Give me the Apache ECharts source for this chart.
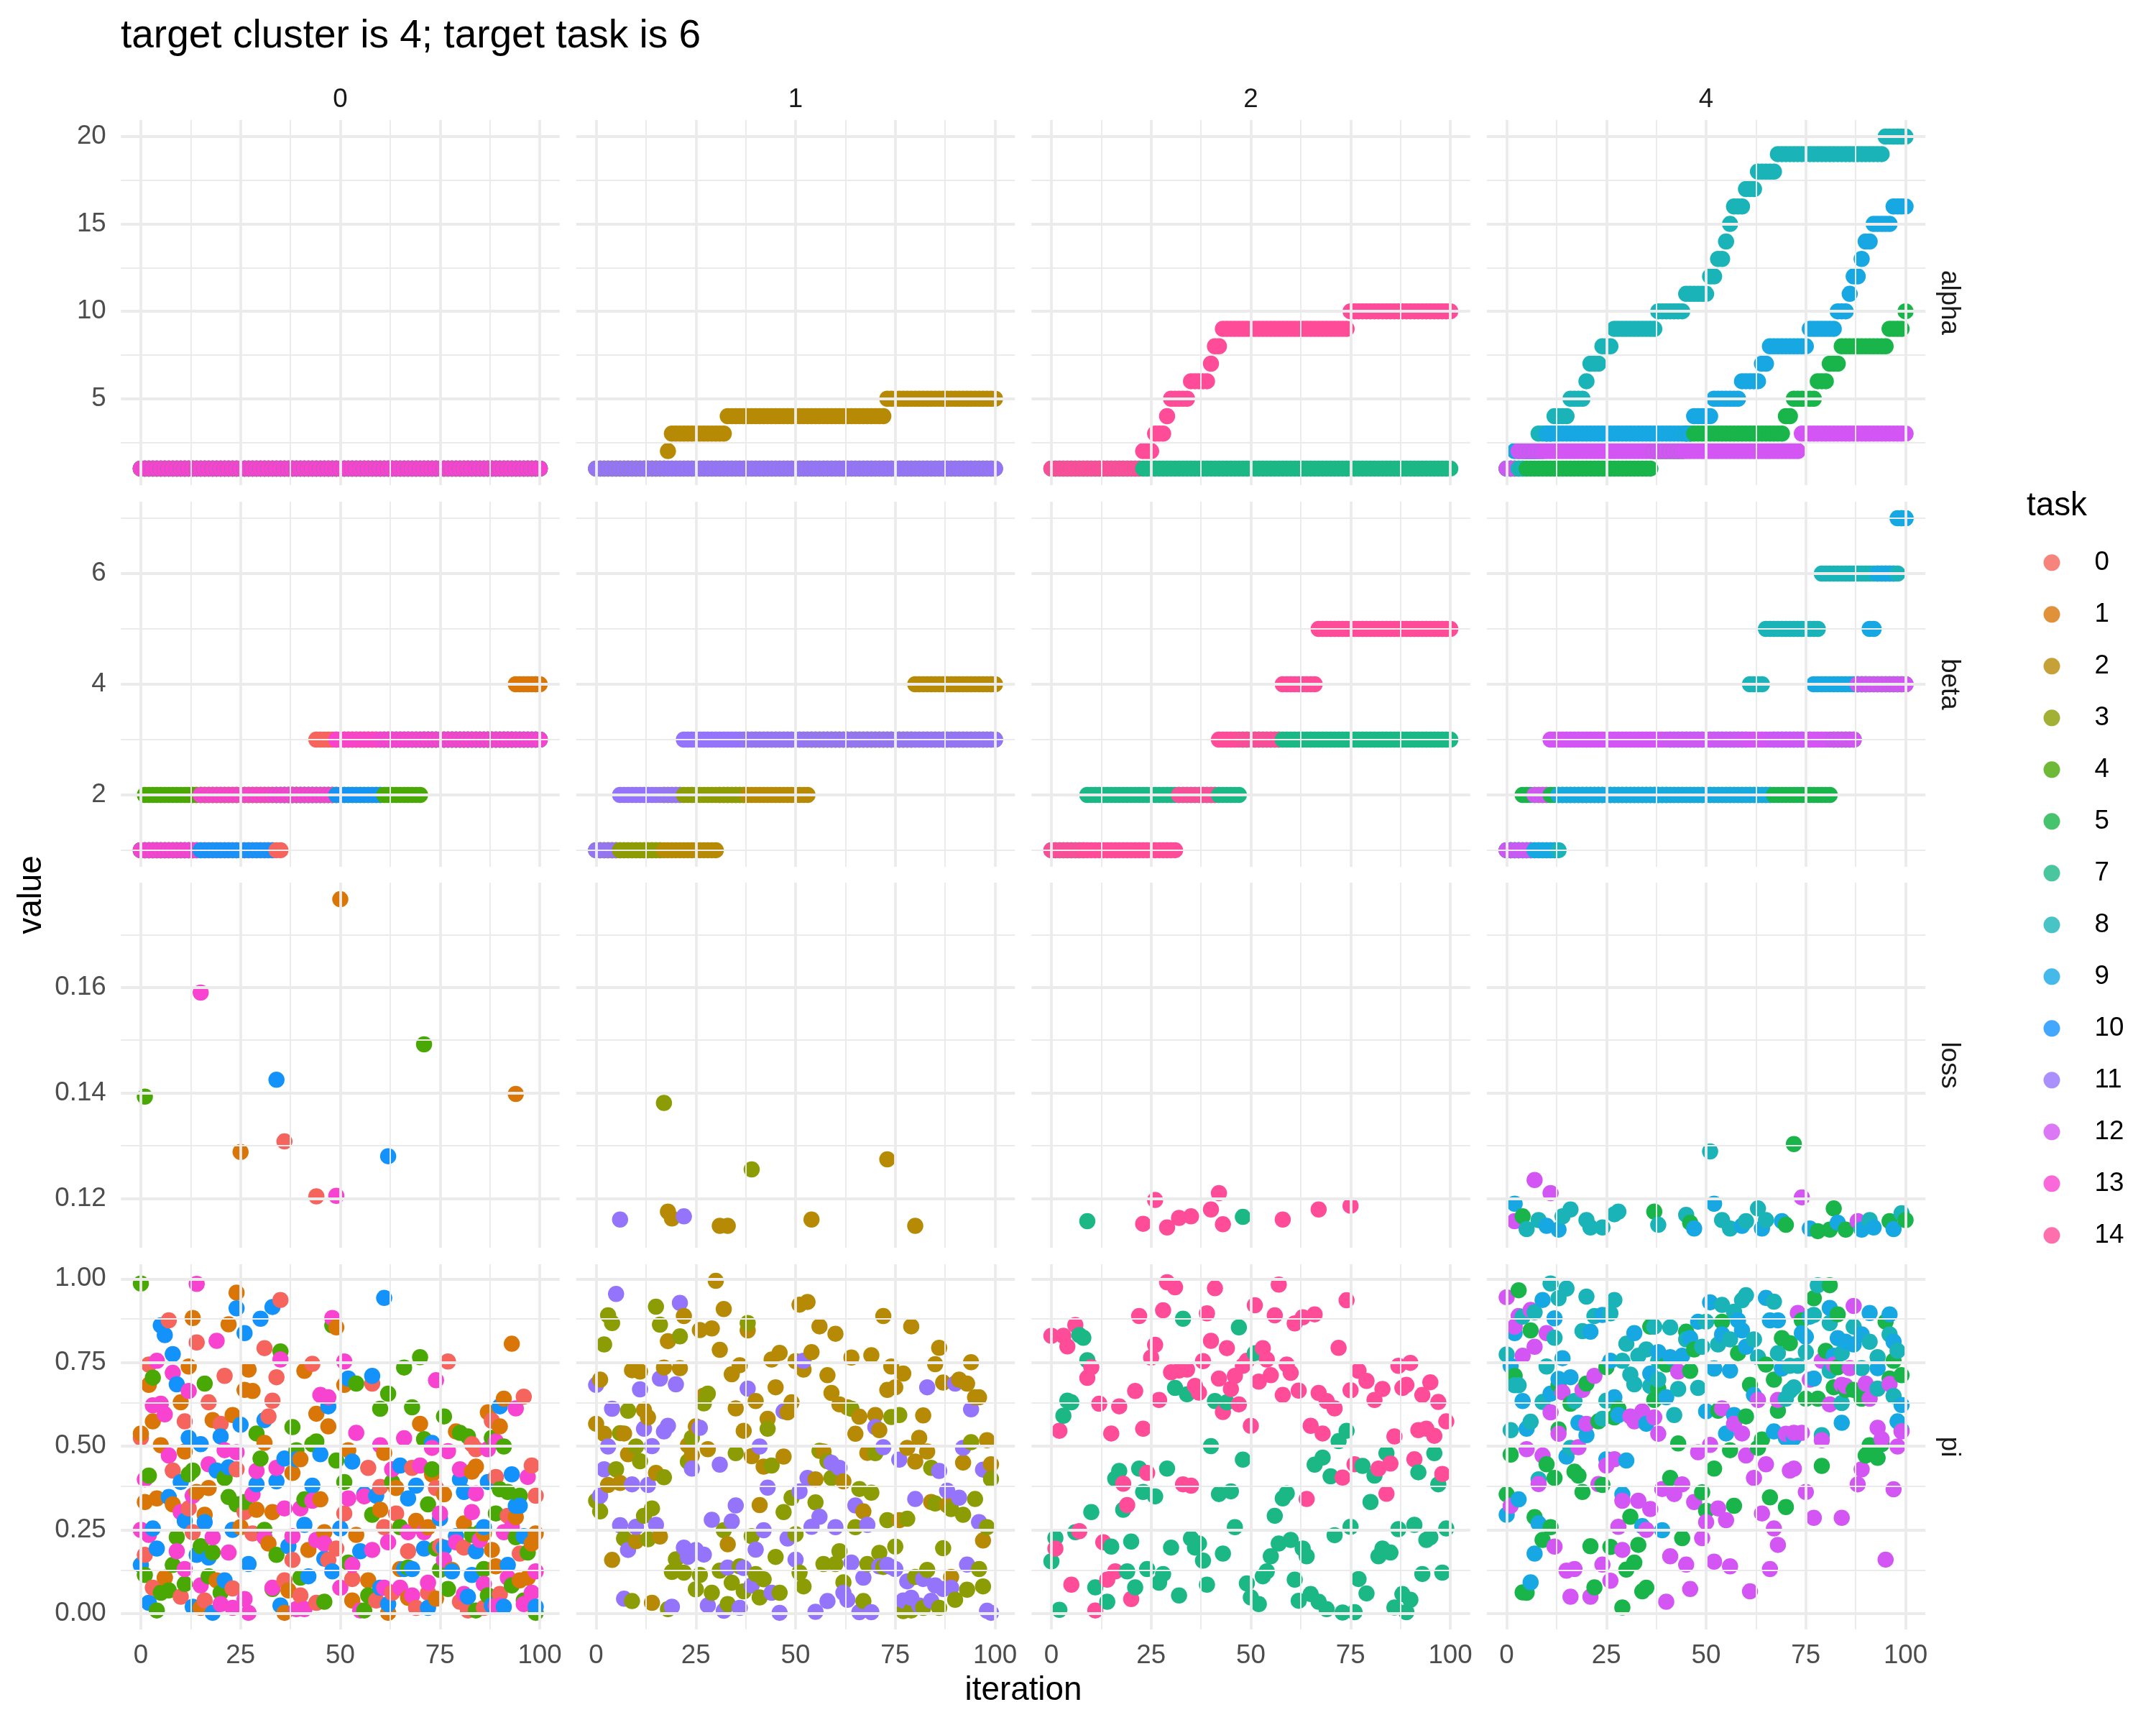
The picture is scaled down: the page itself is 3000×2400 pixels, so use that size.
<!DOCTYPE html>
<html><head><meta charset="utf-8">
<script src="https://cdn.jsdelivr.net/npm/echarts@6/dist/echarts.min.js"></script>
<style>html,body{margin:0;padding:0;background:#fff}#c{width:3000px;height:2400px}</style>
</head><body><div id="c"></div>
<script>
// ---------------- data ----------------
const chartTitle = 'target cluster is 4; target task is 6';
const clusterNames = ['0', '1', '2', '4'];
const clusterTasks = [[0, 1, 4, 10, 13], [2, 3, 11], [7, 14], [5, 8, 9, 12]];
const taskNames = ['0', '1', '2', '3', '4', '5', '7', '8', '9', '10', '11', '12', '13', '14'];
const taskColors = {0:'#F5645D',1:'#DA7608',2:'#B78A06',3:'#8C9C04',4:'#4AA805',5:'#19B44A',7:'#1BB886',8:'#1AB4B8',9:'#17A8E3',10:'#1492FC',11:'#9474FB',12:'#D356F4',13:'#F743CF',14:'#FE4C99'};
const rowNames = ['alpha', 'beta', 'loss', 'pi'];
const xTicks = [0, 25, 50, 75, 100];
const xMinor = [12.5, 37.5, 62.5, 87.5];
const alphaTicks = [5, 10, 15, 20];
const alphaMinor = [2.5, 7.5, 12.5, 17.5];
const betaTicks = [2, 4, 6];
const betaMinor = [1, 3, 5, 7];
const lossTicks = [0.12, 0.14, 0.16];
const lossMinor = [0.13, 0.15, 0.17];
const piTicks = [0, 0.25, 0.5, 0.75, 1];
const piMinor = [0.125, 0.375, 0.625, 0.875];
const lastIteration = 100;

// alpha / beta: step values per task as [first iteration, value] runs
const alphaRuns = {
  0:[[0,1]], 1:[[0,1]], 4:[[0,1]], 10:[[0,1]], 13:[[0,1]],
  2:[[0,1],[18,2],[19,3],[33,4],[73,5]], 3:[[0,1]], 11:[[0,1]],
  7:[[0,1]], 14:[[0,1],[23,2],[26,3],[29,4],[30,5],[35,6],[40,7],[41,8],[43,9],[75,10]],
  5:[[0,1],[37,2],[45,3],[70,4],[72,5],[78,6],[81,7],[84,8],[96,9],[100,10]],
  8:[[0,1],[5,2],[8,3],[12,4],[16,5],[20,6],[21,7],[24,8],[27,9],[38,10],[45,11],[51,12],[53,13],[55,14],[56,15],[57,16],[60,17],[63,18],[68,19],[95,20]],
  9:[[0,1],[2,2],[10,3],[47,4],[52,5],[59,6],[64,7],[66,8],[76,9],[83,10],[86,11],[87,12],[89,13],[90,14],[92,15],[97,16]],
  12:[[0,1],[3,2],[74,3]]
};
const betaRuns = {
  0:[[0,1],[36,2],[44,3]], 1:[[0,1],[13,2],[51,3],[94,4]], 4:[[0,1],[1,2],[71,3]],
  10:[[0,1],[34,2],[61,3]], 13:[[0,1],[15,2],[49,3]],
  2:[[0,1],[31,2],[54,3],[80,4]], 3:[[0,1],[17,2],[38,3]], 11:[[0,1],[6,2],[22,3]],
  7:[[0,1],[9,2],[48,3]], 14:[[0,1],[32,2],[42,3],[58,4],[67,5]],
  5:[[0,1],[4,2],[82,3],[88,4]], 8:[[0,1],[14,2],[41,3],[61,4],[65,5],[79,6],[99,7]],
  9:[[0,1],[13,2],[67,3],[77,4],[91,5],[93,6],[98,7]], 12:[[0,1],[7,2],[11,3],[88,4]]
};

// loss: [iteration, value]
const loss_t0 = [[36,.1308],[44,.1204]];
const loss_t1 = [[25,.1288],[50,.1767],[94,.1398]];
const loss_t4 = [[1,.1393],[71,.1492]];
const loss_t10 = [[34,.1425],[62,.1280]];
const loss_t13 = [[15,.1590],[49,.1205]];
const loss_t2 = [[18,.1175],[19,.1162],[31,.1148],[33,.1148],[54,.1160],[73,.1274],[80,.1148]];
const loss_t3 = [[17,.1381],[39,.1255]];
const loss_t11 = [[6,.1160],[22,.1166]];
const loss_t7 = [[9,.1157],[48,.1165]];
const loss_t14 = [[23,.1152],[26,.1197],[29,.1145],[32,.1163],[35,.1166],[40,.1179],[42,.1210],[43,.1151],[58,.1160],[67,.1179],[75,.1186]];
const loss_t5 = [[4,.1166],[37,.1175],[46,.1154],[70,.1150],[72,.1303],[78,.1138],[81,.1141],[82,.1181],[85,.1141],[96,.1157],[100,.1159]];
const loss_t8 = [[5,.1142],[8,.1159],[14,.1166],[16,.1179],[20,.1159],[21,.1145],[24,.1145],[27,.1170],[28,.1175],[38,.1150],[45,.1169],[51,.1289],[54,.1159],[56,.1143],[60,.1157],[63,.1181],[65,.1159],[91,.1159],[99,.1172]];
const loss_t9 = [[2,.1190],[10,.1148],[13,.1141],[47,.1143],[52,.1190],[59,.1148],[64,.1143],[69,.1157],[76,.1143],[83,.1154],[89,.1141],[92,.1145],[97,.1142]];
const loss_t12 = [[2,.1157],[7,.1235],[11,.1210],[74,.1202],[88,.1157]];

// pi: [iteration, value]
const pi_t0 = [[35,.937],[7,.876],[14,.81],[31,.793],[2,.744],[21,.71],[34,.706],[43,.746],[17,.631],[11,.574],[33,.636],[32,.589],[0,.525],[8,.427],[24,.431],[20,.567],[77,.753],[96,.648],[88,.576],[58,.687],[57,.435],[98,.442],[89,.408],[99,.352],[68,.435],[60,.378],[74,.375],[84,.491],[83,.506],[92,.292],[64,.299],[51,.299],[61,.258],[26,.303],[12,.314],[13,.243],[28,.239],[1,.175],[3,.077],[6,.107],[10,.05],[23,.075],[16,.039],[38,.16],[36,.099],[40,.054],[44,.032],[47,.16],[49,.194],[53,.103],[59,.039],[63,.062],[72,.062],[69,.017],[80,.035],[82,.009],[86,.017],[95,.179],[90,.058],[75,.201],[81,.197],[67,.186]];
const pi_t1 = [[24,.959],[13,.883],[22,.864],[12,.738],[2,.683],[0,.538],[3,.574],[10,.631],[27,.729],[26,.668],[28,.665],[18,.578],[23,.593],[5,.503],[11,.484],[1,.333],[4,.344],[8,.326],[14,.363],[17,.375],[16,.295],[25,.258],[29,.31],[31,.51],[33,.303],[32,.209],[38,.42],[40,.461],[41,.725],[44,.597],[47,.559],[45,.341],[46,.243],[42,.19],[37,.069],[36,.002],[15,.017],[19,.099],[6,.107],[51,.683],[49,.855],[52,.488],[61,.48],[60,.31],[54,.235],[53,.039],[57,.099],[64,.375],[65,.133],[70,.567],[69,.277],[73,.416],[74,.044],[76,.356],[78,.13],[79,.544],[81,.269],[83,.424],[84,.439],[86,.239],[87,.601],[88,.19],[89,.141],[90,.559],[91,.642],[93,.806],[94,.288],[95,.099],[97,.107],[98,.209],[99,.239],[67,.047],[62,.002],[72,.258]];
const pi_t4 = [[0,.986],[3,.705],[2,.412],[1,.115],[4,.009],[5,.062],[7,.069],[9,.228],[8,.145],[11,.088],[12,.416],[13,.427],[16,.687],[15,.201],[18,.182],[17,.111],[20,.062],[21,.405],[22,.348],[24,.326],[26,.333],[29,.538],[30,.463],[31,.25],[35,.783],[34,.175],[33,.073],[38,.557],[39,.488],[41,.341],[40,.107],[43,.506],[44,.514],[46,.035],[48,.861],[49,.457],[51,.393],[52,.152],[54,.687],[56,.009],[58,.295],[57,.054],[60,.612],[62,.657],[63,.393],[65,.258],[66,.735],[67,.137],[68,.616],[70,.766],[71,.521],[72,.326],[73,.431],[74,.194],[75,.13],[76,.589],[77,.073],[80,.54],[82,.529],[83,.235],[84,.009],[86,.133],[87,.054],[88,.525],[90,.371],[91,.499],[92,.363],[94,.228],[95,.352],[96,.039],[97,.182],[99,.002],[93,.084],[89,.299],[85,.243]];
const pi_t10 = [[61,.943],[24,.912],[33,.916],[30,.881],[5,.861],[6,.832],[26,.838],[8,.775],[9,.685],[25,.564],[31,.578],[12,.525],[15,.506],[20,.529],[52,.702],[58,.71],[47,.619],[45,.476],[53,.454],[36,.463],[19,.427],[22,.437],[29,.386],[34,.395],[10,.393],[7,.348],[43,.382],[65,.442],[73,.51],[69,.382],[67,.344],[81,.363],[80,.401],[87,.393],[90,.619],[93,.416],[94,.322],[56,.356],[59,.352],[3,.254],[11,.277],[16,.273],[23,.25],[41,.265],[37,.201],[50,.254],[75,.284],[79,.231],[86,.258],[0,.145],[4,.194],[14,.175],[17,.167],[27,.148],[46,.164],[48,.126],[55,.186],[71,.194],[76,.197],[84,.186],[92,.145],[68,.133],[78,.126],[83,.115],[42,.111],[21,.099],[2,.032],[13,.02],[18,.002],[35,.024],[60,.077],[62,.028],[72,.017],[82,.05],[88,.024],[91,.02],[99,.02],[96,.231],[95,.322],[66,.133],[39,.461]];
const pi_t13 = [[14,.985],[48,.883],[19,.815],[35,.759],[4,.755],[8,.719],[51,.753],[74,.697],[3,.622],[5,.627],[6,.595],[12,.665],[45,.653],[47,.646],[54,.54],[66,.524],[94,.613],[7,.472],[21,.488],[24,.482],[60,.503],[73,.495],[77,.485],[87,.491],[89,.514],[17,.446],[29,.426],[34,.435],[70,.442],[80,.431],[97,.408],[1,.401],[63,.431],[28,.356],[13,.352],[52,.344],[56,.35],[84,.359],[43,.337],[10,.303],[75,.299],[83,.303],[36,.314],[40,.314],[0,.25],[2,.235],[18,.228],[31,.228],[38,.231],[44,.22],[67,.243],[71,.243],[91,.243],[93,.258],[9,.186],[22,.182],[46,.209],[58,.19],[62,.213],[79,.213],[85,.22],[99,.126],[11,.133],[53,.145],[76,.16],[92,.107],[86,.088],[72,.092],[15,.084],[33,.077],[50,.077],[61,.077],[65,.077],[68,.054],[81,.058],[98,.062],[20,.028],[23,.017],[26,.043],[27,.002],[39,.013],[41,.013],[55,.009],[89,.024],[90,.024],[96,.028]];
const pi_t2 = [[30,.994],[32,.91],[51,.923],[53,.931],[22,.889],[26,.847],[29,.852],[38,.846],[18,.814],[31,.788],[56,.858],[60,.836],[72,.889],[79,.858],[86,.794],[85,.745],[94,.751],[1,.699],[9,.727],[11,.723],[17,.735],[21,.733],[34,.715],[36,.742],[44,.759],[46,.779],[50,.754],[52,.729],[54,.781],[58,.712],[64,.765],[69,.772],[74,.738],[77,.717],[73,.668],[75,.676],[87,.69],[91,.699],[93,.687],[96,.646],[95,.646],[45,.676],[27,.651],[40,.635],[35,.613],[59,.659],[61,.625],[63,.616],[49,.631],[48,.601],[12,.608],[13,.586],[0,.567],[2,.537],[7,.538],[43,.582],[37,.546],[66,.588],[70,.593],[71,.548],[65,.537],[82,.592],[81,.525],[25,.559],[23,.503],[8,.476],[28,.491],[24,.472],[39,.47],[42,.439],[47,.469],[57,.484],[68,.48],[78,.495],[83,.484],[80,.454],[92,.451],[98,.518],[99,.446],[15,.42],[3,.384],[6,.39],[55,.401],[62,.395],[84,.333],[67,.305],[88,.324],[41,.324],[76,.279],[16,.23],[10,.216],[33,.207],[97,.218],[4,.16],[14,.032],[89,.109]];
const pi_t3 = [[3,.891],[4,.868],[2,.804],[15,.917],[16,.863],[21,.828],[38,.868],[8,.606],[6,.539],[10,.499],[11,.455],[27,.628],[28,.657],[24,.525],[23,.454],[5,.431],[17,.407],[35,.479],[43,.552],[44,.442],[64,.612],[74,.587],[76,.593],[56,.486],[58,.455],[70,.479],[59,.405],[84,.435],[94,.512],[99,.402],[0,.337],[1,.305],[12,.292],[14,.314],[7,.224],[13,.222],[49,.346],[47,.303],[55,.332],[66,.372],[69,.361],[95,.342],[98,.258],[85,.329],[89,.312],[92,.295],[65,.258],[73,.279],[78,.283],[32,.249],[39,.231],[50,.237],[87,.195],[75,.2],[61,.186],[20,.162],[19,.124],[22,.122],[26,.115],[25,.072],[29,.062],[31,.128],[34,.092],[36,.141],[37,.066],[40,.118],[42,.102],[41,.048],[45,.169],[46,.062],[51,.122],[52,.081],[57,.148],[60,.148],[62,.093],[68,.148],[71,.181],[72,.139],[80,.109],[83,.13],[96,.133],[93,.071],[97,.081],[90,.041],[86,.017],[77,.007],[79,.009],[67,.037],[33,.028],[18,.013],[9,.037],[82,.017]];
const pi_t11 = [[5,.955],[21,.928],[0,.683],[11,.67],[16,.702],[20,.685],[38,.672],[52,.755],[83,.676],[90,.687],[94,.61],[4,.612],[12,.552],[18,.561],[17,.544],[14,.5],[3,.499],[26,.555],[47,.604],[41,.499],[70,.557],[72,.497],[76,.46],[92,.495],[86,.426],[97,.43],[2,.431],[24,.433],[31,.445],[9,.386],[13,.384],[59,.45],[61,.435],[53,.405],[1,.352],[43,.376],[51,.365],[65,.323],[80,.342],[88,.367],[91,.346],[35,.323],[6,.264],[10,.259],[15,.265],[29,.28],[34,.275],[56,.289],[54,.259],[68,.265],[60,.258],[42,.249],[96,.273],[48,.224],[8,.19],[40,.191],[22,.197],[25,.19],[27,.176],[23,.169],[50,.161],[64,.152],[71,.141],[74,.139],[33,.137],[37,.136],[67,.107],[93,.146],[78,.096],[82,.103],[85,.084],[87,.073],[39,.084],[44,.062],[7,.044],[19,.02],[28,.024],[32,.008],[36,.017],[46,.002],[55,.005],[58,.037],[62,.062],[63,.041],[66,.004],[69,.004],[77,.039],[79,.047],[81,.024],[84,.038],[98,.008],[99,.002],[73,.145],[75,.133],[89,.077]];
const pi_t7 = [[33,.881],[47,.855],[7,.832],[8,.824],[9,.757],[51,.778],[4,.636],[5,.631],[3,.591],[31,.674],[34,.655],[41,.635],[44,.631],[74,.546],[72,.515],[40,.5],[48,.46],[84,.479],[96,.479],[68,.466],[66,.445],[78,.441],[81,.412],[70,.41],[92,.422],[97,.386],[17,.426],[16,.403],[22,.433],[29,.433],[23,.363],[26,.35],[42,.357],[45,.365],[59,.359],[58,.344],[18,.31],[80,.333],[56,.292],[10,.303],[46,.258],[71,.234],[75,.259],[87,.252],[91,.265],[94,.22],[95,.228],[99,.254],[1,.226],[6,.243],[0,.156],[15,.2],[20,.215],[30,.197],[35,.224],[37,.209],[36,.197],[43,.179],[38,.158],[55,.171],[57,.209],[60,.22],[63,.194],[64,.171],[82,.171],[83,.194],[85,.182],[54,.126],[53,.111],[61,.101],[77,.103],[79,.06],[93,.118],[98,.122],[24,.133],[28,.118],[27,.092],[19,.126],[21,.078],[11,.078],[14,.035],[32,.054],[39,.086],[49,.09],[50,.048],[52,.028],[62,.038],[65,.058],[67,.035],[69,.013],[73,.003],[76,.004],[86,.018],[88,.058],[90,.041],[89,.004],[2,.011]];
const pi_t14 = [[29,.99],[31,.975],[41,.972],[57,.983],[74,.936],[51,.921],[56,.891],[39,.897],[28,.906],[22,.889],[61,.867],[63,.885],[66,.894],[6,.862],[0,.83],[3,.83],[4,.798],[26,.803],[25,.765],[40,.815],[44,.793],[72,.794],[53,.793],[54,.759],[49,.755],[48,.74],[38,.754],[10,.736],[9,.704],[30,.721],[32,.726],[34,.729],[42,.702],[46,.71],[45,.671],[52,.693],[55,.712],[59,.744],[60,.719],[36,.68],[37,.66],[21,.665],[27,.638],[12,.627],[17,.619],[47,.625],[43,.602],[58,.653],[62,.666],[67,.659],[69,.635],[71,.613],[75,.667],[77,.725],[79,.695],[81,.638],[83,.671],[87,.74],[90,.749],[88,.674],[89,.683],[93,.653],[95,.691],[97,.632],[99,.574],[92,.548],[94,.552],[96,.531],[86,.529],[65,.561],[68,.538],[50,.561],[2,.546],[15,.538],[23,.552],[76,.446],[82,.433],[85,.448],[91,.461],[98,.417],[73,.406],[84,.358],[24,.42],[18,.388],[33,.386],[35,.382],[64,.342],[19,.324],[7,.246],[13,.213],[1,.194],[16,.126],[14,.101],[5,.086],[20,.043],[11,.009]];
const pi_t5 = [[3,.966],[81,.981],[77,.942],[83,.894],[6,.846],[36,.857],[45,.842],[54,.872],[47,.789],[58,.778],[69,.823],[71,.808],[74,.876],[95,.872],[80,.785],[97,.755],[99,.712],[96,.702],[89,.642],[87,.668],[85,.668],[82,.676],[83,.736],[78,.642],[75,.642],[67,.699],[68,.606],[65,.744],[61,.683],[46,.725],[40,.744],[38,.672],[37,.638],[28,.612],[27,.586],[23,.574],[25,.736],[20,.687],[16,.627],[13,.683],[2,.71],[13,.55],[1,.475],[10,.446],[12,.405],[17,.424],[18,.412],[24,.384],[19,.363],[0,.356],[7,.288],[11,.258],[9,.22],[21,.201],[26,.199],[33,.205],[31,.289],[32,.152],[30,.131],[4,.063],[5,.062],[22,.078],[34,.066],[35,.077],[29,.018],[41,.405],[49,.362],[50,.307],[44,.225],[57,.322],[52,.433],[56,.488],[60,.589],[64,.52],[63,.495],[43,.508],[66,.347],[70,.318],[79,.441],[91,.503],[93,.465],[90,.472],[94,.506],[53,.606],[52,.732]];
const pi_t8 = [[11,.986],[15,.971],[13,.942],[20,.947],[27,.937],[7,.9],[4,.887],[22,.889],[26,.897],[19,.844],[12,.824],[0,.774],[10,.738],[2,.682],[3,.682],[9,.632],[1,.548],[6,.573],[16,.495],[8,.401],[17,.635],[30,.806],[29,.755],[33,.77],[31,.714],[32,.685],[37,.857],[41,.855],[35,.789],[38,.755],[36,.68],[38,.699],[25,.636],[24,.582],[42,.593],[43,.671],[48,.674],[49,.797],[50,.872],[54,.922],[57,.902],[60,.951],[59,.936],[62,.819],[53,.804],[56,.819],[45,.819],[63,.766],[67,.932],[68,.778],[71,.74],[72,.676],[70,.642],[75,.781],[77,.892],[78,.981],[81,.868],[87,.857],[89,.733],[91,.812],[96,.834],[98,.785],[93,.766],[84,.778],[81,.725],[84,.629],[93,.672],[97,.65],[99,.548],[79,.533],[73,.74],[71,.665]];
const pi_t9 = [[9,.937],[12,.882],[2,.838],[21,.842],[24,.892],[14,.763],[1,.74],[4,.635],[13,.701],[11,.657],[16,.706],[5,.552],[15,.469],[20,.533],[18,.57],[25,.461],[30,.457],[26,.755],[27,.646],[28,.593],[32,.838],[36,.717],[38,.781],[41,.766],[40,.646],[35,.567],[29,.356],[3,.341],[0,.295],[8,.269],[34,.261],[39,.249],[7,.179],[6,.093],[48,.872],[51,.93],[58,.876],[65,.943],[66,.876],[68,.876],[59,.846],[54,.834],[46,.823],[44,.77],[52,.732],[56,.726],[50,.604],[55,.538],[57,.593],[62,.653],[60,.797],[67,.544],[70,.525],[72,.525],[75,.827],[74,.838],[76,.887],[81,.913],[83,.823],[85,.812],[87,.804],[89,.834],[91,.898],[96,.894],[97,.812],[77,.702],[69,.732],[82,.77],[93,.733],[99,.623],[98,.574],[84,.57]];
const pi_t12 = [[0,.945],[6,.907],[3,.889],[2,.857],[10,.838],[7,.797],[4,.77],[22,.71],[14,.661],[19,.668],[11,.601],[13,.537],[20,.567],[18,.497],[5,.491],[9,.472],[8,.387],[25,.442],[27,.461],[23,.387],[1,.322],[31,.589],[34,.604],[32,.574],[37,.586],[38,.537],[43,.723],[29,.337],[33,.337],[36,.312],[35,.25],[28,.259],[29,.19],[12,.2],[15,.128],[17,.133],[24,.146],[26,.098],[16,.05],[21,.05],[39,.372],[42,.357],[44,.386],[47,.333],[41,.171],[45,.146],[46,.073],[40,.035],[48,.482],[51,.504],[54,.613],[57,.567],[59,.538],[60,.472],[63,.638],[62,.405],[65,.446],[53,.314],[55,.279],[50,.273],[49,.225],[52,.155],[56,.141],[61,.066],[64,.299],[67,.254],[68,.205],[66,.133],[70,.537],[72,.54],[74,.54],[71,.427],[72,.433],[75,.363],[77,.286],[84,.286],[79,.518],[68,.638],[73,.898],[76,.699],[79,.755],[82,.744],[86,.733],[85,.68],[81,.625],[87,.919],[91,.642],[96,.686],[93,.555],[94,.521],[98,.499],[99,.544],[89,.431],[88,.386],[97,.371],[95,.161],[90,.687],[84,.683]];

// ---------------- build ----------------
const FONT = '"Liberation Sans", Arial, Helvetica, sans-serif';
const lossByTask = {0:loss_t0,1:loss_t1,2:loss_t2,3:loss_t3,4:loss_t4,5:loss_t5,7:loss_t7,8:loss_t8,9:loss_t9,10:loss_t10,11:loss_t11,12:loss_t12,13:loss_t13,14:loss_t14};
const piByTask = {0:pi_t0,1:pi_t1,2:pi_t2,3:pi_t3,4:pi_t4,5:pi_t5,7:pi_t7,8:pi_t8,9:pi_t9,10:pi_t10,11:pi_t11,12:pi_t12,13:pi_t13,14:pi_t14};

function expandRuns(runs) {
  const out = []; let k = 0;
  for (let it = 0; it <= lastIteration; it++) {
    while (k + 1 < runs.length && runs[k + 1][0] <= it) k++;
    out.push([it, runs[k][1]]);
  }
  return out;
}
const rowData = [{}, {}, lossByTask, piByTask];
Object.keys(alphaRuns).forEach(t => { rowData[0][t] = expandRuns(alphaRuns[t]); });
Object.keys(betaRuns).forEach(t => { rowData[1][t] = expandRuns(betaRuns[t]); });

const rowTicks = [alphaTicks, betaTicks, lossTicks, piTicks];
const rowMinor = [alphaMinor, betaMinor, lossMinor, piMinor];
const rowFmt = [v => String(v), v => String(v), v => v.toFixed(2), v => v.toFixed(2)];

const panelLeft = [168.25, 801.75, 1435.25, 2068.75], panelW = 610.5;
const panelTop = [167, 698, 1228, 1759], panelH = 508;
const gridCol = '#EBEBEB', majorW = 3.8, minorW = 1.9;

// y ranges (ggplot-style 5% expansion) per row
const rowRange = rowData.map(rd => {
  let mn = Infinity, mx = -Infinity;
  Object.values(rd).forEach(arr => arr.forEach(p => { mn = Math.min(mn, p[1]); mx = Math.max(mx, p[1]); }));
  const pad = (mx - mn) * 0.05;
  return [mn - pad, mx + pad];
});

const grids = [], xAxes = [], yAxes = [], series = [];
for (let r = 0; r < 4; r++) {
  for (let c = 0; c < 4; c++) {
    const idx = grids.length;
    grids.push({left: panelLeft[c], top: panelTop[r], width: panelW, height: panelH, containLabel: false, outerBoundsMode: 'none', show: false});
    xAxes.push({
      gridIndex: idx, type: 'value', min: -5, max: 105,
      axisLine: {show: false}, axisTick: {show: false}, splitLine: {show: false}, minorSplitLine: {show: false},
      axisLabel: r === 3 ? {show: true, customValues: xTicks, formatter: v => String(v), fontSize: 36.7, color: '#4D4D4D', fontFamily: FONT, margin: 18, hideOverlap: false, showMinLabel: true, showMaxLabel: true} : {show: false}
    });
    yAxes.push({
      gridIndex: idx, type: 'value', min: rowRange[r][0], max: rowRange[r][1],
      axisLine: {show: false}, axisTick: {show: false}, splitLine: {show: false}, minorSplitLine: {show: false},
      axisLabel: c === 0 ? {show: true, customValues: rowTicks[r], formatter: rowFmt[r], fontSize: 36.7, color: '#4D4D4D', fontFamily: FONT, margin: 20.5, hideOverlap: false} : {show: false}
    });
    // grid lines through the axes' scales
    const ml = [];
    rowMinor[r].forEach(v => { if (v > rowRange[r][0] && v < rowRange[r][1]) ml.push({yAxis: v, lineStyle: {color: gridCol, width: minorW, type: 'solid'}}); });
    xMinor.forEach(v => ml.push({xAxis: v, lineStyle: {color: gridCol, width: minorW, type: 'solid'}}));
    rowTicks[r].forEach(v => ml.push({yAxis: v, lineStyle: {color: gridCol, width: majorW, type: 'solid'}}));
    xTicks.forEach(v => ml.push({xAxis: v, lineStyle: {color: gridCol, width: majorW, type: 'solid'}}));
    series.push({type: 'line', xAxisIndex: idx, yAxisIndex: idx, data: [], silent: true, z: 1, animation: false,
      markLine: {silent: true, symbol: ['none', 'none'], label: {show: false}, animation: false, emphasis: {disabled: true}, data: ml}});
    // points, ordered by iteration then task (as drawn by the source)
    const pts = [];
    clusterTasks[c].forEach(t => { (rowData[r][t] || []).forEach(p => pts.push([p[0], p[1], t])); });
    pts.sort((a, b) => a[0] - b[0] || a[2] - b[2]);
    series.push({type: 'scatter', xAxisIndex: idx, yAxisIndex: idx, symbol: 'circle', symbolSize: 22.5, silent: true, z: 3,
      animation: false, progressive: 0, large: false,
      data: pts.map(p => ({value: [p[0], p[1]], itemStyle: {color: taskColors[p[2]], opacity: 1}}))});
  }
}
// legend entries
taskNames.forEach(n => series.push({type: 'scatter', name: n, data: [], xAxisIndex: 0, yAxisIndex: 0, itemStyle: {color: taskColors[+n]}, symbol: 'circle'}));

const txt = (text, x, y, size, fill, align, rot) => ({type: 'text', x, y, rotation: rot || 0, silent: true, z: 10,
  style: {text, font: size + 'px ' + FONT, fill, textAlign: align || 'center', align: align || 'center', textVerticalAlign: 'middle', verticalAlign: 'middle'}});
const graphics = [txt(chartTitle, 168, 51, 55, '#000', 'left')];
clusterNames.forEach((n, c) => graphics.push(txt(n, panelLeft[c] + panelW / 2, 139, 36.7, '#1A1A1A')));
rowNames.forEach((n, r) => graphics.push(txt(n, 2712, panelTop[r] + panelH / 2, 36.7, '#1A1A1A', 'center', -Math.PI / 2)));
graphics.push(txt('iteration', 1424, 2352, 45.8, '#000'));
graphics.push(txt('value', 44, 1245, 45.8, '#000', 'center', Math.PI / 2));
graphics.push(txt('task', 2820, 704, 45.8, '#000', 'left'));

const chart = echarts.init(document.getElementById('c'), null, {renderer: 'canvas', width: 3000, height: 2400});
chart.setOption({
  animation: false,
  backgroundColor: '#FFFFFF',
  grid: grids, xAxis: xAxes, yAxis: yAxes, series,
  legend: {show: true, orient: 'vertical', left: 2843.5, top: 764.3, padding: 0, itemWidth: 23, itemHeight: 23, itemGap: 35,
    icon: 'circle', selectedMode: false, data: taskNames,
    textStyle: {fontSize: 36.7, color: '#000', fontFamily: FONT, padding: [0, 0, 0, 43]}},
  graphic: graphics
});
</script></body></html>
